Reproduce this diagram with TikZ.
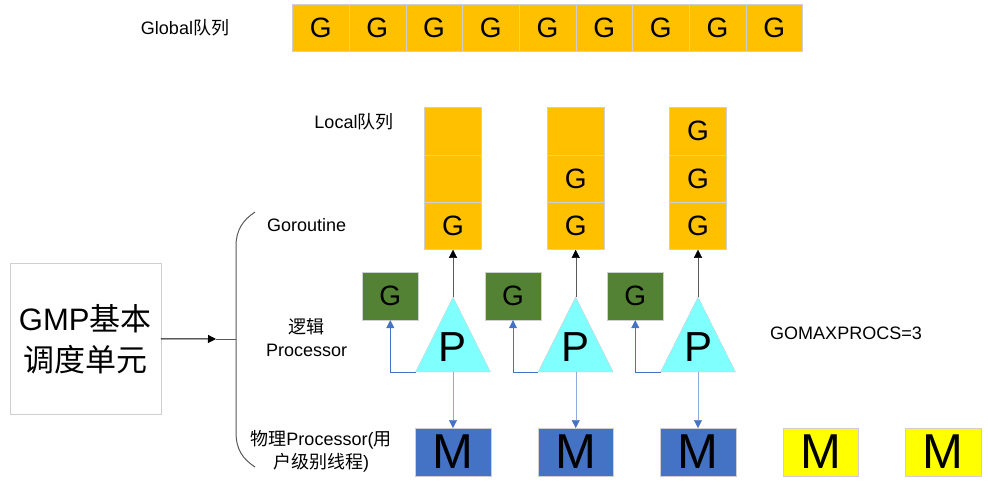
\documentclass[tikz,border=0pt]{standalone}
\usepackage{fontspec}
\setmainfont{Liberation Sans}
\newfontfamily\cjk{Noto Sans CJK SC}
\usetikzlibrary{arrows.meta,positioning,calc}
\definecolor{Gold}{HTML}{FFC000}
\definecolor{Leaf}{HTML}{548235}
\definecolor{Aqua}{HTML}{80FFFF}
\definecolor{Steel}{HTML}{4472C4}
\definecolor{Lemon}{HTML}{FFFF00}
\definecolor{Edge}{HTML}{CFCFCF}
\definecolor{Link}{HTML}{8FAADC}
\definecolor{Ink}{HTML}{595959}

\begin{document}
\begin{tikzpicture}[x=1pt,y=-1pt,
    qcell/.style={draw=Edge,fill=Gold,minimum width=56.7pt,minimum height=47.5pt,
      inner sep=0pt,font=\fontsize{28}{30}\selectfont},
    gcell/.style={draw=Edge,fill=Leaf,minimum width=56pt,minimum height=47.3pt,
      inner sep=0pt,font=\fontsize{28}{30}\selectfont},
    mbox/.style={draw=Edge,minimum width=75.5pt,minimum height=47.5pt,
      inner sep=0pt,font=\fontsize{49}{50}\selectfont},
    ptri/.style={draw=Edge,fill=Aqua},
    lbl/.style={align=center,inner sep=0pt,font=\fontsize{18}{23}\selectfont},
    up/.style={draw=Ink,-{Triangle[length=8pt,width=8pt,color=black]}},
    blue/.style={draw=Steel,-{Triangle[length=8pt,width=8pt,color=Steel]}},
    down/.style={draw=Link,-{Triangle[length=8pt,width=8pt,color=Steel]}},
    brace/.style={draw=Ink,line width=1pt}
  ]
    \useasboundingbox (0,0) rectangle (988,501);
    \node[lbl] (glab) at (185,27.5) {Global{\cjk 队列}};
    \foreach \i in {1,...,9}
      \node[qcell] (glob\i) at ({292.3+56.7*(\i-0.5)},27.8) {G};
    \node[lbl] (llab) at (354,122) {Local{\cjk 队列}};
    \foreach \c/\x/\ta/\tb/\tc in {1/453/{}/{}/G,2/575.7/{}/G/G,3/698/G/G/G} {
      \node[qcell] (loc\c a) at (\x,131) {\ta};
      \node[qcell] (loc\c b) at (\x,178.5) {\tb};
      \node[qcell] (loc\c c) at (\x,225.8) {\tc};
      \draw[ptri] (\x,297) -- ({\x+37.5},372) -- ({\x-37.5},372) -- cycle;
      \coordinate (apex\c) at (\x,297);
      \coordinate (base\c) at (\x,372);
      \coordinate (corner\c) at ({\x-37.5},372);
      \node[inner sep=0pt,font=\fontsize{42}{44}\selectfont] (p\c) at (\x,347) {P};
      \node[gcell] (g\c) at ({\x-62.7},296.3) {G};
      \node[mbox,fill=Steel] (m\c) at (\x,452) {M};
      \draw[up] (apex\c) -- (loc\c c.south);
      \draw[blue] (corner\c) -| (g\c.south);
      \draw[down] (base\c) -- (m\c.north);
    }
    \node[mbox,fill=Lemon] (m4) at (820.5,452) {M};
    \node[mbox,fill=Lemon] (m5) at (943,452) {M};
    \node[lbl] (maxp) at (846,333) {GOMAXPROCS=3};
    \node[draw=Edge,minimum width=151pt,minimum height=151pt,align=center,
      font=\fontsize{31}{41}\selectfont] (gmp) at (85.2,338.8)
      {GMP{\cjk 基本}\\{\cjk 调度单元}};
    \coordinate (tip) at (216,339);
    \draw[brace] (255,212) .. controls (243,220) and (236,230) .. (236,246)
      -- (236,432) .. controls (236,450) and (243,459) .. (255,467);
    \draw[brace] (236,339) -- (tip);
    \draw[up,draw=black,line width=1pt] (gmp.east) -- (tip);
    \node[lbl] (grt) at (306.7,225) {Goroutine};
    \node[lbl] (lp) at (306.7,338) {{\cjk 逻辑}\\Processor};
    \node[lbl] (pp) at (321,451) {{\cjk 物理}Processor({\cjk 用}\\{\cjk 户级别线程})};
\end{tikzpicture}
\end{document}
